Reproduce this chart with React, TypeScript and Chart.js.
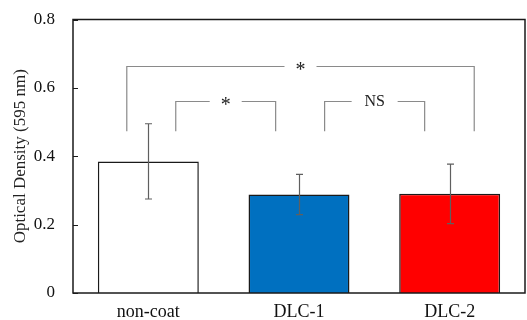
import React, { useEffect, useRef } from "react";
import { Chart, registerables } from "chart.js";

Chart.register(...registerables);

const categories = ["non-coat", "DLC-1", "DLC-2"];
const means = [0.385, 0.288, 0.29];
const errors = [0.11, 0.059, 0.087];
const barColors = ["#FFFFFF", "#0070C0", "#FF0000"];
const yTicks = [0, 0.2, 0.4, 0.6, 0.8];
// significance brackets: [from category, to category, label, top level, leg bottom]
const bracketFrom = [0, 0, 1];
const bracketTo = [2, 1, 2];
const bracketLabels = ["*", "*", "NS"];
const bracketTop = [0.663, 0.561, 0.561];
const bracketBottom = [0.473, 0.473, 0.473];

const FONT = "'Liberation Serif', 'Times New Roman', serif";

// offsets (fraction of category width) of bracket legs from category centers
const legFromOff = [-0.143, 0.182, 0.17];
const legToOff = [0.163, -0.155, -0.166];
const gapHalf = [16, 16, 23];

const overlayPlugin = {
  id: "overlay",
  afterDatasetsDraw(chart: any) {
    const ctx = chart.ctx;
    const x = chart.scales.x;
    const y = chart.scales.y;
    const area = chart.chartArea;
    const cw = (x.getPixelForValue(1) - x.getPixelForValue(0));
    ctx.save();
    // error bars
    ctx.strokeStyle = "#5f5f5f";
    ctx.lineWidth = 1.2;
    means.forEach((m, i) => {
      const cx = Math.round(x.getPixelForValue(i)) + 0.5;
      const yt = y.getPixelForValue(m + errors[i]);
      const yb = y.getPixelForValue(m - errors[i]);
      ctx.beginPath();
      ctx.moveTo(cx, yt);
      ctx.lineTo(cx, yb);
      ctx.moveTo(cx - 3.5, yt);
      ctx.lineTo(cx + 3.5, yt);
      ctx.moveTo(cx - 3.5, yb);
      ctx.lineTo(cx + 3.5, yb);
      ctx.stroke();
    });
    // brackets
    ctx.strokeStyle = "#8a8a8a";
    ctx.lineWidth = 1.2;
    bracketLabels.forEach((lab, i) => {
      const x1 = x.getPixelForValue(bracketFrom[i]) + legFromOff[i] * cw;
      const x2 = x.getPixelForValue(bracketTo[i]) + legToOff[i] * cw;
      const yt = Math.round(y.getPixelForValue(bracketTop[i])) + 0.5;
      const yb = y.getPixelForValue(bracketBottom[i]);
      const mid = (x1 + x2) / 2;
      ctx.beginPath();
      ctx.moveTo(x1, yb);
      ctx.lineTo(x1, yt);
      ctx.lineTo(mid - gapHalf[i], yt);
      ctx.moveTo(mid + gapHalf[i], yt);
      ctx.lineTo(x2, yt);
      ctx.lineTo(x2, yb);
      ctx.stroke();
      ctx.fillStyle = "#222";
      ctx.textAlign = "center";
      ctx.textBaseline = "middle";
      if (lab === "*") {
        ctx.font = `20px ${FONT}`;
        ctx.fillText(lab, mid, yt + 4);
      } else {
        ctx.font = `16px ${FONT}`;
        ctx.fillText(lab, mid, yt);
      }
    });
    // frame
    ctx.strokeStyle = "#1a1a1a";
    ctx.lineWidth = 1.5;
    ctx.strokeRect(area.left, area.top, area.right - area.left, area.bottom - area.top);
    // inward y ticks
    ctx.lineWidth = 1;
    yTicks.forEach((t) => {
      const py = Math.round(y.getPixelForValue(t)) + 0.5;
      ctx.beginPath();
      ctx.moveTo(area.left, py);
      ctx.lineTo(area.left + 5, py);
      ctx.stroke();
    });
    ctx.restore();
  },
};

export default function App() {
  const ref = useRef<HTMLCanvasElement>(null);
  useEffect(() => {
    document.body.style.margin = "0";
    const chart = new Chart(ref.current as HTMLCanvasElement, {
      type: "bar",
      data: {
        labels: categories,
        datasets: [
          {
            data: means,
            backgroundColor: barColors,
            borderColor: "#1a1a1a",
            borderWidth: 1.5,
            barPercentage: 0.67,
            categoryPercentage: 1,
          },
        ],
      },
      options: {
        animation: false,
        responsive: false,
        layout: { padding: { top: 19.5, right: 2, left: 0, bottom: 0 } },
        plugins: { legend: { display: false }, tooltip: { enabled: false } },
        scales: {
          x: {
            grid: { display: false, drawTicks: false },
            border: { display: false },
            ticks: { color: "#111", font: { family: FONT, size: 18 }, padding: 8 },
            afterFit: (s: any) => {
              s.height = 27;
              s.paddingLeft = 0;
              s.paddingRight = 0;
            },
          },
          y: {
            min: 0,
            max: 0.8,
            grid: { display: false, drawTicks: false },
            border: { display: false },
            afterBuildTicks: (s: any) => {
              s.ticks = yTicks.map((v) => ({ value: v }));
            },
            ticks: {
              color: "#111",
              font: { family: FONT, size: 17 },
              padding: 18,
              callback: (v: any) => String(Math.round(Number(v) * 10) / 10),
            },
            title: {
              display: true,
              text: "Optical Density (595 nm)",
              color: "#222",
              font: { family: FONT, size: 17 },
              padding: { top: 10, bottom: 0 },
            },
            afterFit: (s: any) => {
              s.width = 73;
              s.paddingTop = 0;
              s.paddingBottom = 0;
            },
          },
        },
      },
      plugins: [overlayPlugin],
    } as any);
    return () => chart.destroy();
  }, []);
  return (
    <div style={{ width: 527, height: 320 }}>
      <canvas ref={ref} width={527} height={320} style={{ display: "block" }} />
    </div>
  );
}
